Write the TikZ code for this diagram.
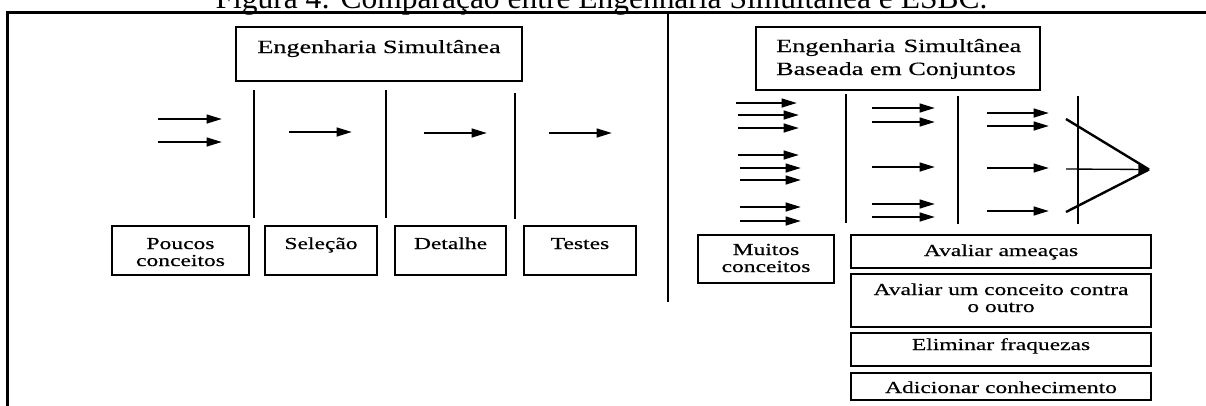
\documentclass[tikz,border=0pt]{standalone}
\usepackage{fontspec}
\setmainfont{Liberation Serif}
\newfontfamily\widefont[FakeStretch=1.4,FakeBold=0.4]{Liberation Serif}
\usetikzlibrary{arrows.meta}

\begin{document}
\begin{tikzpicture}[x=0.75pt,y=-0.75pt,
  frameline/.style={line width=1.6pt},
  divider/.style={line width=1pt},
  flow/.style={line width=1.7pt,-{Triangle[length=11.5pt,width=6.5pt]}},
  joinline/.style={line width=1.8pt},
  stagebox/.style={draw,line width=0.8pt},
  boxtext/.style={font=\widefont\fontsize{12.6}{12.75}\selectfont,align=center,anchor=base,inner sep=0pt},
  titletext/.style={font=\widefont\fontsize{14}{17.25}\selectfont,align=left,anchor=base west,inner sep=0pt},
]
\useasboundingbox (0,0) rectangle (1206,405);

% caption running off the top edge
\node[font=\fontsize{23.6}{28}\selectfont,anchor=base,inner sep=0pt] (caption) at (601.5,8.5)
  {Figura 4: Comparação entre Engenharia Simultânea e ESBC.};

% frame and central divider
\draw[frameline] (7.5,407) -- (7.5,12.5) -- (1208,12.5);
\draw[divider] (668,12.5) -- (668,302);

% ---------- left half: Engenharia Simultânea ----------
\draw[stagebox] (236,27) rectangle (522,81);
\node[titletext,anchor=base] (titleL) at (379,53) {Engenharia Simultânea};

\foreach \x/\a/\b in {254/90/218, 386/90/218, 515/93/219}
  \draw[divider] (\x,\a) -- (\x,\b);

\foreach \n/\xa/\xb/\y in {l1/158/222/119, l2/158/222/142, l3/289/352/132, l4/424/487/133, l5/549/612/133}{
  \coordinate (\n s) at (\xa,\y);
  \coordinate (\n e) at (\xb,\y);
  \draw[flow] (\n s) -- (\n e);
}

\draw[stagebox] (112,226) rectangle (249,275);
\draw[stagebox] (265,226) rectangle (377,275);
\draw[stagebox] (395,226) rectangle (506,275);
\draw[stagebox] (524,226) rectangle (636,275);
% multi-line texts are placed by the baseline of their last line
\node[boxtext] (poucos) at (180.5,266) {Poucos\\conceitos};
\node[boxtext] (selecao) at (321,249) {Seleção};
\node[boxtext] (detalhe) at (450.5,249) {Detalhe};
\node[boxtext] (testes) at (580,249) {Testes};

% ---------- right half: ESBC ----------
\draw[stagebox] (756,27) rectangle (1040,90);
\node[titletext] (titleR) at (776,75) {Engenharia\hspace{0.45em}Simultânea\\Baseada em Conjuntos};

\foreach \x/\a/\b in {846/94/223, 958/96/224, 1078/96/224}
  \draw[divider] (\x,\a) -- (\x,\b);

\foreach \n/\xa/\xb/\y in {
    r1/736/797/103, r2/738/799/115, r3/738/799/128,
    r4/738/799/155, r5/740/801/168, r6/740/801/180,
    r7/740/801/207, r8/740/801/221,
    s1/872/935/108, s2/872/935/122, s3/872/935/167,
    s4/872/935/204, s5/872/935/217,
    t1/987/1049/113, t2/987/1049/126, t3/987/1049/168, t4/987/1049/211}{
  \coordinate (\n s) at (\xa,\y);
  \coordinate (\n e) at (\xb,\y);
  \draw[flow] (\n s) -- (\n e);
}

% converging selection
\coordinate (convTop) at (1066,119);
\coordinate (convMid) at (1066,169);
\coordinate (convBot) at (1066,212);
\coordinate (convEnd) at (1149,169.5);
\draw[joinline] (convTop) -- (convEnd);
\draw[joinline] (convBot) -- (convEnd);
\draw[line width=1pt,-{Triangle[length=8pt,width=7pt]}] (convMid) -- (convEnd);

\draw[stagebox] (698,235) rectangle (834,283);
\node[boxtext] (muitos) at (766,272) {Muitos\\conceitos};

\draw[stagebox] (851,235) rectangle (1151,268);
\draw[stagebox] (851,274) rectangle (1151,327);
\draw[stagebox] (851,333) rectangle (1151,366);
\draw[stagebox] (851,373) rectangle (1151,400);
\node[boxtext] (ameacas) at (1001,256) {Avaliar ameaças};
\node[boxtext] (contra) at (1001,312) {Avaliar um conceito contra\\o outro};
\node[boxtext] (fraquezas) at (1001,350) {Eliminar fraquezas};
\node[boxtext] (conhecimento) at (1001,393) {Adicionar conhecimento};
\end{tikzpicture}
\end{document}
